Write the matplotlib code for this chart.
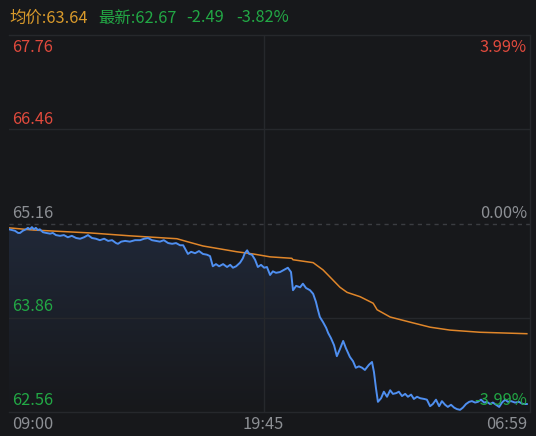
import matplotlib
matplotlib.use("Agg")
import matplotlib.pyplot as plt
import numpy as np
from matplotlib.patches import Polygon
from matplotlib.colors import LinearSegmentedColormap

plt.rcParams['font.family'] = ['Noto Sans CJK SC', 'DejaVu Sans']

# ---- data (minutes after 09:00, price) ----
price_min = [0, 8, 15, 23, 28, 35, 43, 48, 53, 58, 63, 68, 73, 78, 86, 94, 104, 111, 119, 129,
             139, 149, 159, 170, 180, 190, 200, 210, 220, 230, 241, 251, 261, 271, 276, 284, 294, 306, 319, 332,
             342, 352, 362, 372, 382, 392, 403, 413, 423, 433, 441, 448, 453, 461, 471, 481, 491, 501, 509, 516,
             524, 532, 542, 552, 560, 567, 575, 585, 592, 597, 603, 608, 615, 623, 630, 638, 646, 653, 661, 668,
             676, 686, 696, 706, 714, 719, 727, 737, 744, 752, 762, 770, 777, 782, 787, 795, 803, 808, 815, 823,
             830, 838, 846, 853, 863, 871, 878, 886, 894, 901, 911, 919, 924, 929, 934, 942, 949, 957, 965, 972,
             980, 987, 995, 1003, 1010, 1018, 1025, 1033, 1041, 1051, 1058, 1066, 1073, 1081, 1089, 1096, 1104, 1111, 1119, 1127,
             1134, 1142, 1149, 1157, 1165, 1172, 1180, 1187, 1195, 1203, 1210, 1218, 1225, 1233, 1241, 1248, 1256, 1263, 1271, 1281,
             1291, 1301, 1311]
price = [65.08, 65.07, 65.06, 65.03, 65.03, 65.06, 65.08, 65.10, 65.08, 65.11, 65.08, 65.10, 65.07, 65.08, 65.04, 65.03, 65.02, 65.03, 65.00, 64.99,
         65.00, 64.97, 64.99, 64.96, 64.95, 64.97, 65.00, 64.96, 64.95, 64.93, 64.95, 64.92, 64.93, 64.89, 64.88, 64.91, 64.92, 64.91, 64.93, 64.93,
         64.95, 64.96, 64.93, 64.92, 64.91, 64.93, 64.89, 64.88, 64.89, 64.86, 64.86, 64.79, 64.74, 64.77, 64.75, 64.78, 64.74, 64.73, 64.71, 64.57,
         64.60, 64.57, 64.60, 64.56, 64.59, 64.55, 64.57, 64.62, 64.68, 64.75, 64.79, 64.74, 64.73, 64.66, 64.56, 64.59, 64.55, 64.56, 64.45, 64.50,
         64.48, 64.49, 64.52, 64.55, 64.49, 64.24, 64.30, 64.28, 64.33, 64.27, 64.24, 64.19, 64.08, 63.97, 63.87, 63.80, 63.72, 63.65, 63.58, 63.48,
         63.33, 63.43, 63.54, 63.44, 63.32, 63.26, 63.17, 63.19, 63.17, 63.14, 63.21, 63.25, 63.11, 62.89, 62.70, 62.75, 62.84, 62.77, 62.86, 62.81,
         62.82, 62.84, 62.78, 62.81, 62.77, 62.80, 62.74, 62.77, 62.75, 62.74, 62.73, 62.64, 62.67, 62.73, 62.64, 62.71, 62.66, 62.63, 62.66, 62.62,
         62.60, 62.59, 62.62, 62.67, 62.70, 62.71, 62.69, 62.70, 62.73, 62.69, 62.70, 62.67, 62.69, 62.66, 62.63, 62.69, 62.73, 62.70, 62.71, 62.69,
         62.70, 62.67, 62.67]

avg_min = [0, 61, 205, 306, 425, 451, 491, 534, 577, 618, 661, 716, 719, 770, 795, 813, 838, 856, 889, 922,
           932, 965, 1015, 1066, 1116, 1192, 1311]
avg_price = [65.10, 65.07, 65.03, 64.99, 64.95, 64.91, 64.85, 64.81, 64.77, 64.74, 64.70, 64.68, 64.66, 64.62, 64.52, 64.42, 64.28, 64.21, 64.15, 64.06,
             63.97, 63.87, 63.80, 63.73, 63.69, 63.66, 63.64]

y_levels = [67.76, 66.46, 65.16, 63.86, 62.56]
y_level_labels = ["67.76", "66.46", "65.16", "63.86", "62.56"]
pct_labels = ["3.99%", "0.00%", "-3.99%"]
time_labels = ["09:00", "19:45", "06:59"]
time_pos = [0, 645, 1319]
header_avg = "均价:63.64"
header_last = ["最新:62.67", "-2.49", "-3.82%"]

# ---- style ----
BG = "#17181b"
GRID = "#26282c"
RED = "#e04a3d"
GREEN = "#22a845"
GREY = "#8c8f94"
ORANGE = "#d99a2b"
BLUE = "#4f8ff0"
AVG = "#e0862a"
FS = 11.8

W, H = 536, 436
fig = plt.figure(figsize=(W / 100, H / 100), dpi=100, facecolor=BG)
L, R, T, B = 9, 530, 35, 412
ax = fig.add_axes([L / W, 1 - B / H, (R - L) / W, (B - T) / H], facecolor=BG)
ax.set_xlim(0, 1319)
for s in ax.spines.values():
    s.set_color(GRID)
    s.set_linewidth(1)
ax.spines['left'].set_visible(False)
ax.set_xticks([])
ax.set_yticks([])

# grid
ax.axhline(y_levels[1], color=GRID, lw=1)
ax.axhline(y_levels[3], color=GRID, lw=1)
ax.axhline(y_levels[2], color="#3b3d42", lw=1, ls=(0, (3, 3)))
ax.axvline(time_pos[1], color=GRID, lw=1)

# gradient fill under price
x = np.array(price_min, dtype=float)
y = np.array(price)
verts = [(x[0], y_levels[-1])] + list(zip(x, y)) + [(x[-1], y_levels[-1])]
poly = Polygon(verts, closed=True, facecolor='none', edgecolor='none')
ax.add_patch(poly)
grad = np.linspace(1, 0, 256).reshape(-1, 1)
cmap = LinearSegmentedColormap.from_list("g", [BG, "#202838"])
im = ax.imshow(grad, extent=[0, 1319, y_levels[-1], max(price)], aspect='auto',
               cmap=cmap, origin='upper', zorder=1)
im.set_clip_path(poly)
ax.set_ylim(y_levels[-1], y_levels[0])

ax.plot(avg_min, avg_price, color=AVG, lw=1.1, zorder=3)
ax.plot(price_min, price, color=BLUE, lw=1.4, zorder=4)

# labels
def ft(xpx, ypx, s, color, ha='left', size=FS):
    fig.text(xpx / W, 1 - ypx / H, s, color=color, ha=ha, va='center', fontsize=size)

label_y = [48, 119, 213, 306, 400]
label_c = [RED, RED, GREY, GREEN, GREEN]
for yy, s, c in zip(label_y, y_level_labels, label_c):
    ft(12, yy, s, c)
ft(527, 48, pct_labels[0], RED, ha='right')
ft(527, 213, pct_labels[1], GREY, ha='right')
ft(527, 400, pct_labels[2], GREEN, ha='right')

ft(12, 424, time_labels[0], GREY)
ft(263, 424, time_labels[1], GREY, ha='center')
ft(527, 424, time_labels[2], GREY, ha='right')

ft(9, 18, header_avg, ORANGE)
ft(98, 18, header_last[0], GREEN)
ft(186, 18, header_last[1], GREEN)
ft(236, 18, header_last[2], GREEN)

fig.savefig("out.png", dpi=100, facecolor=BG)
